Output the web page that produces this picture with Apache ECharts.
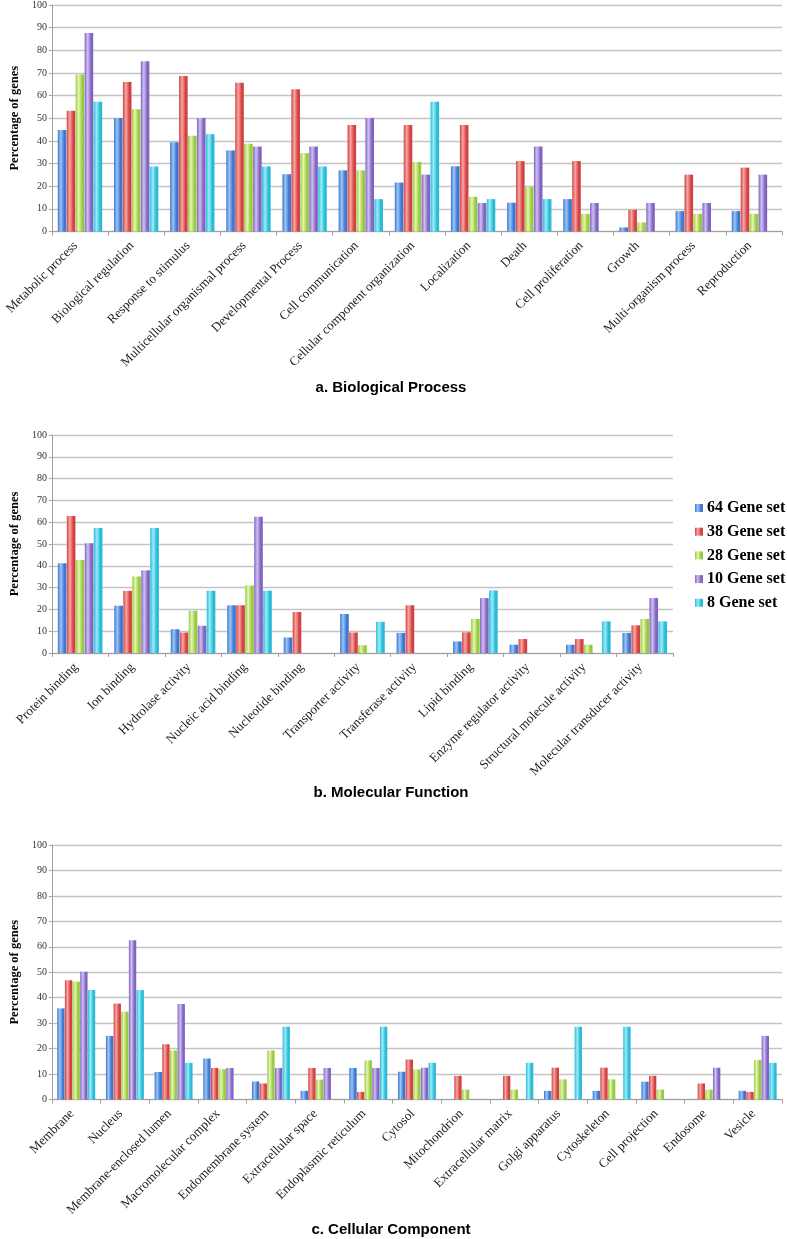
<!DOCTYPE html>
<html>
<head>
<meta charset="utf-8">
<script src="https://cdn.jsdelivr.net/npm/echarts@6/dist/echarts.min.js"></script>
<style>
html,body{margin:0;padding:0;background:#fff;}
#chart{width:787px;height:1239px;}
</style>
</head>
<body>
<div id="chart"></div>
<script>
const seriesNames = ['64 Gene set', '38 Gene set', '28 Gene set', '10 Gene set', '8 Gene set'];
const yTicks = [0, 10, 20, 30, 40, 50, 60, 70, 80, 90, 100];

const bpCategories = ['Metabolic process', 'Biological regulation', 'Response to stimulus', 'Multicellular organismal process', 'Developmental Process', 'Cell communication', 'Cellular component organization', 'Localization', 'Death', 'Cell proliferation', 'Growth', 'Multi-organism process', 'Reproduction'];
const bp64 = [44.8, 50.1, 39.4, 35.8, 25.3, 27.0, 21.6, 28.8, 12.7, 14.3, 1.8, 9.0, 9.0];
const bp38 = [53.3, 66.0, 68.6, 65.7, 62.8, 47.0, 47.0, 47.0, 31.1, 31.1, 9.6, 25.1, 28.2];
const bp28 = [69.3, 54.0, 42.3, 38.7, 34.6, 27.0, 30.7, 15.3, 19.6, 7.8, 4.0, 7.8, 7.8];
const bp10 = [87.6, 75.2, 50.1, 37.5, 37.5, 50.1, 25.1, 12.6, 37.5, 12.6, 12.6, 12.6, 25.1];
const bp8  = [57.3, 28.7, 42.9, 28.7, 28.7, 14.3, 57.3, 14.3, 14.3, 0, 0, 0, 0];

const mfCategories = ['Protein binding', 'Ion binding', 'Hydrolase activity', 'Nucleic acid binding', 'Nucleotide binding', 'Transporter activity', 'Transferase activity', 'Lipid binding', 'Enzyme regulator activity', 'Structural molecule activity', 'Molecular transducer activity'];
const mf64 = [41.2, 21.7, 10.9, 21.9, 7.1, 17.9, 9.2, 5.3, 3.8, 3.8, 9.2];
const mf38 = [62.9, 28.5, 9.4, 21.9, 18.8, 9.4, 21.9, 9.5, 6.4, 6.4, 12.7];
const mf28 = [42.7, 35.1, 19.4, 31.0, 0, 3.6, 0, 15.6, 0, 3.8, 15.6];
const mf10 = [50.4, 37.9, 12.5, 62.5, 0, 0, 0, 25.2, 0, 0, 25.2];
const mf8  = [57.3, 57.3, 28.6, 28.6, 0, 14.3, 0, 28.7, 0, 14.5, 14.5];

const ccCategories = ['Membrane', 'Nucleus', 'Membrane-enclosed lumen', 'Macromolecular complex', 'Endomembrane system', 'Extracellular space', 'Endoplasmic reticulum', 'Cytosol', 'Mitochondrion', 'Extracellular matrix', 'Golgi apparatus', 'Cytoskeleton', 'Cell projection', 'Endosome', 'Vesicle'];
const cc64 = [35.8, 25.0, 10.8, 16.1, 7.1, 3.4, 12.4, 10.9, 0, 0, 3.4, 3.4, 7.0, 0, 3.4];
const cc38 = [46.9, 37.7, 21.7, 12.4, 6.3, 12.4, 3.0, 15.7, 9.3, 9.3, 12.5, 12.5, 9.3, 6.3, 3.0];
const cc28 = [46.3, 34.5, 19.3, 11.9, 19.3, 7.8, 15.4, 11.8, 3.9, 3.9, 7.9, 7.9, 3.9, 3.9, 15.5];
const cc10 = [50.2, 62.6, 37.5, 12.4, 12.4, 12.4, 12.4, 12.5, 0, 0, 0, 0, 0, 12.5, 25.0];
const cc8  = [43.0, 43.0, 14.4, 0, 28.6, 0, 28.6, 14.4, 0, 14.4, 28.6, 28.6, 0, 0, 14.4];

const titles = ['a. Biological Process', 'b. Molecular Function', 'c. Cellular Component'];

const palette = [
  {dark: '#3f76cf', light: '#9ac6f8'},
  {dark: '#d24242', light: '#f8a7a3'},
  {dark: '#99c944', light: '#e4f8ae'},
  {dark: '#8164c0', light: '#d0c0f4'},
  {dark: '#2bbad6', light: '#9aedf9'}
];
function grad(p) {
  return {type: 'linear', x: 0, y: 0, x2: 1, y2: 0,
    colorStops: [{offset: 0, color: p.dark}, {offset: 0.35, color: p.light}, {offset: 0.75, color: p.dark}, {offset: 1, color: p.dark}]};
}

const serif = 'Liberation Serif, Times New Roman, serif';
const sans = 'Liberation Sans, Arial, sans-serif';

const grids = [
  {left: 42, right: 5, top: 3.5, height: 228},
  {left: 42, right: 114, top: 435, height: 218},
  {left: 41, right: 5, top: 845, height: 254.5}
];
const cats = [bpCategories, mfCategories, ccCategories];
const data = [[bp64, bp38, bp28, bp10, bp8], [mf64, mf38, mf28, mf10, mf8], [cc64, cc38, cc28, cc10, cc8]];
const catGaps = ['21%', '21%', '22%'];

const xAxes = cats.map((c, i) => ({
  type: 'category', gridIndex: i, data: c,
  axisLine: {lineStyle: {color: '#a0a0a0', width: 1}},
  axisTick: {show: true, length: 4, lineStyle: {color: '#a0a0a0'}},
  axisLabel: {interval: 0, rotate: 45, margin: 8, padding: [0, 6, 0, 0], fontFamily: serif, fontSize: 13, color: '#222'}
}));
const yAxes = cats.map((c, i) => ({
  type: 'value', gridIndex: i, min: yTicks[0], max: yTicks[yTicks.length - 1], interval: 10,
  name: 'Percentage of genes', nameLocation: 'middle', nameGap: 25,
  nameTextStyle: {fontFamily: serif, fontWeight: 'bold', fontSize: 12.5, color: '#000'},
  axisLine: {show: true, lineStyle: {color: '#a0a0a0', width: 1}},
  axisTick: {show: true, length: 3, lineStyle: {color: '#a0a0a0'}},
  axisLabel: {fontFamily: serif, fontSize: 10, color: '#333', margin: 5},
  splitLine: {lineStyle: {color: '#c4c4c4', width: 1.4}}
}));

const series = [];
data.forEach((group, gi) => {
  group.forEach((vals, si) => {
    series.push({
      type: 'bar', name: seriesNames[si], xAxisIndex: gi, yAxisIndex: gi,
      data: vals, barGap: '4%', barCategoryGap: catGaps[gi],
      itemStyle: {color: grad(palette[si])},
      emphasis: {disabled: true}
    });
  });
});

const titleTops = [380, 785, 1222];
const option = {
  animation: false,
  backgroundColor: '#fff',
  title: titles.map((t, i) => ({
    text: t, left: 391, textAlign: 'center', top: titleTops[i], padding: 0,
    textStyle: {fontFamily: sans, fontWeight: 'bold', fontSize: 15, color: '#000'}
  })),
  legend: {
    data: seriesNames, orient: 'vertical', left: 695, top: 500, padding: 0,
    itemWidth: 8, itemHeight: 8, itemGap: 7.7, icon: 'rect',
    textStyle: {fontFamily: serif, fontWeight: 'bold', fontSize: 16, color: '#000', padding: [0, 0, 0, -1]}
  },
  grid: grids,
  xAxis: xAxes,
  yAxis: yAxes,
  series: series
};
const chart = echarts.init(document.getElementById('chart'), null, {renderer: 'canvas'});
chart.setOption(option);
</script>
</body>
</html>
